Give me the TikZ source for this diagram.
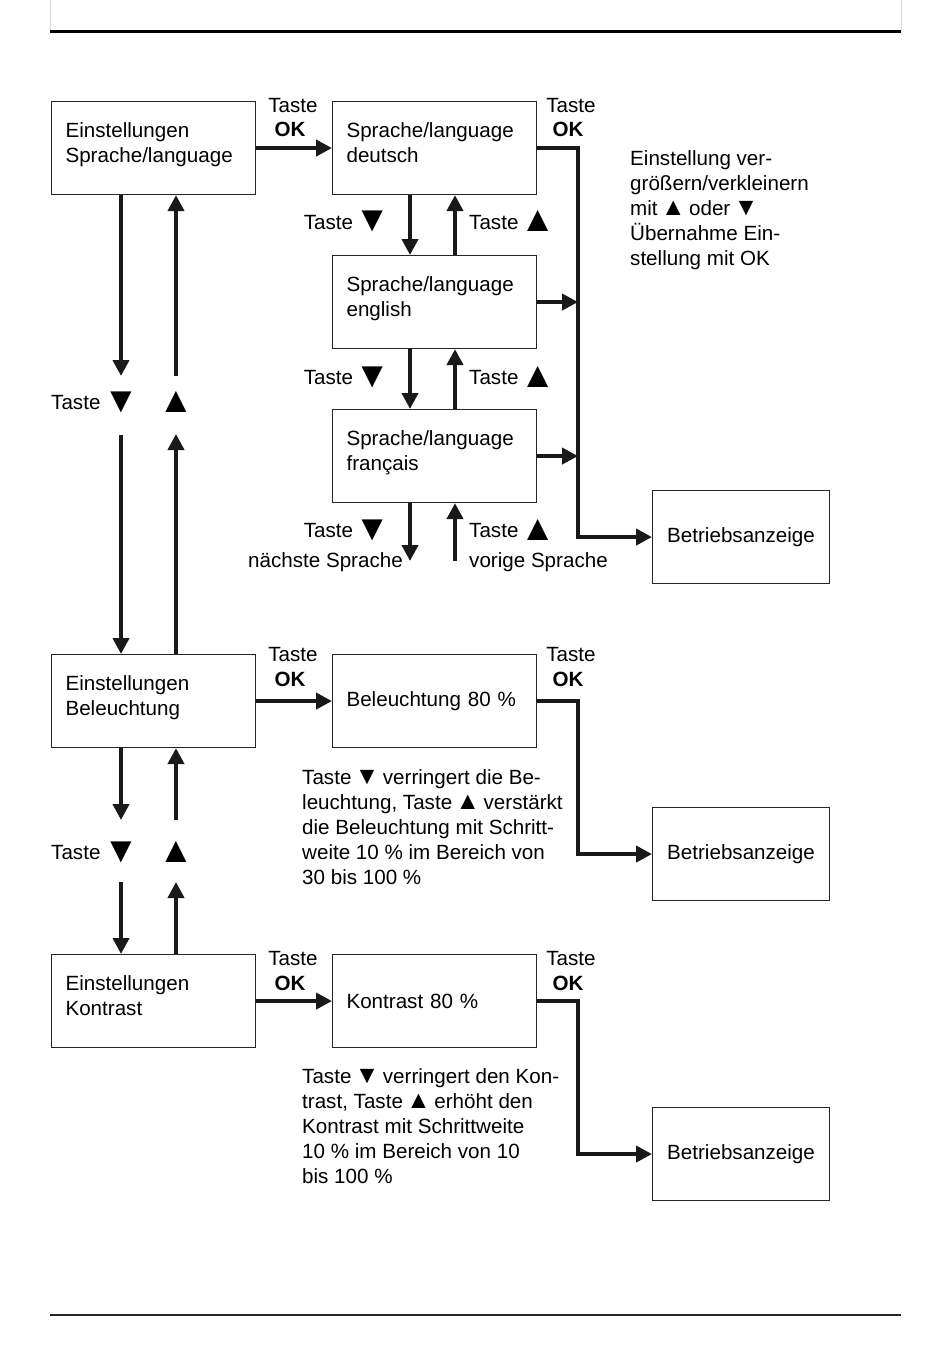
\documentclass[tikz,border=0pt]{standalone}
\usepackage{fontspec}
\usepackage{graphicx}
\setmainfont{Liberation Sans}
\usetikzlibrary{arrows.meta}
\newcommand\dfont{\fontsize{20.6}{25}\selectfont}
\newcommand\triL[1]{\makebox[27pt][c]{\smash{\raisebox{-3pt}{\scalebox{1.75}{#1}}}}}
\newcommand\triS[1]{\makebox[20pt][c]{\smash{\scalebox{1.2}{#1}}}}
\newcommand\dnT{\triL{▼}}
\newcommand\upT{\triL{▲}}
\newcommand\dnS{\triS{▼}}
\newcommand\upS{\triS{▲}}
\begin{document}
\begin{tikzpicture}[x=1pt,y=-1pt,
  box/.style={draw=black!85, line width=1.1pt, minimum width=204pt, minimum height=93pt,
    anchor=north west, inner xsep=14pt, inner ysep=0pt, text width=176pt, align=left, font=\dfont},
  box2/.style={box, text depth=37pt},
  zbox/.style={draw=black!85, line width=1.1pt, minimum width=177pt, minimum height=93pt,
    anchor=north west, inner sep=0pt, align=center, font=\dfont},
  lab/.style={inner sep=0pt, font=\dfont},
  txt/.style={inner sep=0pt, font=\dfont, align=left, anchor=north west},
  lin/.style={line width=4pt, line join=miter, black!90},
  arr/.style={lin, -{Triangle[length=16pt,width=16pt]}}
]
\path[use as bounding box] (0,0) rectangle (950,1367);
% page rules
\draw[black!15, line width=0.8pt] (50,0) -- (50,30) (901,0) -- (901,30);
\draw[line width=3.5pt] (50,31.5) -- (901,31.5);
\draw[line width=2pt, black!85] (50,1315) -- (901,1315);

% boxes
\node[box2] (A1) at (51,101) {Einstellungen\\Sprache/language};
\node[box2] (B1) at (332,101) {Sprache/language\\deutsch};
\node[box2] (B2) at (332,255) {Sprache/language\\english};
\node[box2] (B3) at (332,409) {Sprache/language\\français};
\node[zbox] (Z1) at (652,490) {Betriebsanzeige};
\node[box2] (A2) at (51,654) {Einstellungen\\Beleuchtung};
\node[box] (C2) at (332,654) {Beleuchtung 80 \%};
\node[zbox] (Z2) at (652,807) {Betriebsanzeige};
\node[box2] (A3) at (51,954) {Einstellungen\\Kontrast};
\node[box] (C3) at (332,954) {Kontrast 80 \%};
\node[zbox] (Z3) at (652,1107) {Betriebsanzeige};

% helper coordinates
\coordinate (xd) at (410,0);
\coordinate (xu) at (455,0);
\coordinate (vx) at (578,0);
\coordinate (e1) at (410,561);
\coordinate (e2) at (455,561);
\coordinate (ld1) at (121,376);
\coordinate (lu1) at (176,376);
\coordinate (ld2) at (121,435);
\coordinate (lu2) at (176,434);
\coordinate (ld3) at (121,820);
\coordinate (lu3) at (176,820);
\coordinate (ld4) at (121,882);
\coordinate (lu4) at (176,882);

% row 1
\draw[arr] (A1.east) -- (B1.west);
\draw[arr] (B1.east) -- (vx |- B1.east) -- (vx |- Z1.west) -- (Z1.west);
\draw[arr] (B2.east) -- (vx |- B2.east);
\draw[arr] (B3.east) -- (vx |- B3.east);
\draw[arr] (xd |- B1.south) -- (xd |- B2.north);
\draw[arr] (xu |- B2.north) -- (xu |- B1.south);
\draw[arr] (xd |- B2.south) -- (xd |- B3.north);
\draw[arr] (xu |- B3.north) -- (xu |- B2.south);
\draw[arr] (xd |- B3.south) -- (e1);
\draw[arr] (e2) -- (xu |- B3.south);

% left column
\draw[arr] (ld1 |- A1.south) -- (ld1);
\draw[arr] (lu1) -- (lu1 |- A1.south);
\draw[arr] (ld2) -- (ld2 |- A2.north);
\draw[arr] (lu2 |- A2.north) -- (lu2);
\draw[arr] (ld3 |- A2.south) -- (ld3);
\draw[arr] (lu3) -- (lu3 |- A2.south);
\draw[arr] (ld4) -- (ld4 |- A3.north);
\draw[arr] (lu4 |- A3.north) -- (lu4);

% rows 2 and 3
\draw[arr] (A2.east) -- (C2.west);
\draw[arr] (C2.east) -- (vx |- C2.east) -- (vx |- Z2.west) -- (Z2.west);
\draw[arr] (A3.east) -- (C3.west);
\draw[arr] (C3.east) -- (vx |- C3.east) -- (vx |- Z3.west) -- (Z3.west);

% Taste OK labels
\node[lab, anchor=base] (t1a) at (293,113) {Taste};
\node[lab, anchor=base] (t1b) at (290,137) {\textbf{OK}};
\node[lab, anchor=base] (t2a) at (571,113) {Taste};
\node[lab, anchor=base] (t2b) at (568,137) {\textbf{OK}};
\node[lab, anchor=base] (t3a) at (293,661) {Taste};
\node[lab, anchor=base] (t3b) at (290,686) {\textbf{OK}};
\node[lab, anchor=base] (t4a) at (571,661) {Taste};
\node[lab, anchor=base] (t4b) at (568,686) {\textbf{OK}};
\node[lab, anchor=base] (t5a) at (293,965) {Taste};
\node[lab, anchor=base] (t5b) at (290,990) {\textbf{OK}};
\node[lab, anchor=base] (t6a) at (571,965) {Taste};
\node[lab, anchor=base] (t6b) at (568,990) {\textbf{OK}};

% key labels between language boxes
\node[lab, anchor=base east] (k1) at (386,229) {Taste \dnT};
\node[lab, anchor=base west] (k2) at (469,229) {Taste \upT};
\node[lab, anchor=base east] (k3) at (386,384) {Taste \dnT};
\node[lab, anchor=base west] (k4) at (469,384) {Taste \upT};
\node[lab, anchor=base east] (k5) at (386,537) {Taste \dnT};
\node[lab, anchor=base west] (k6) at (469,537) {Taste \upT};
\node[lab, anchor=base east] (k7) at (403,567) {nächste Sprache};
\node[lab, anchor=base west] (k8) at (469,567) {vorige Sprache};

% left column labels
\node[lab, anchor=base west] (m1) at (51,409) {Taste};
\node[lab, anchor=base] (m2) at (121,409) {\dnT};
\node[lab, anchor=base] (m3) at (176,409) {\upT};
\node[lab, anchor=base west] (m4) at (51,859) {Taste};
\node[lab, anchor=base] (m5) at (121,859) {\dnT};
\node[lab, anchor=base] (m6) at (176,859) {\upT};

% explanatory texts
\node[txt] (n1) at (630,150) {Einstellung ver-\\größern/verkleinern\\mit \upS{} oder \dnS\\Übernahme Ein-\\stellung mit OK};
\node[txt] (n2) at (302,769) {Taste \dnS{} verringert die Be-\\leuchtung, Taste \upS{} verstärkt\\die Beleuchtung mit Schritt-\\weite 10 \% im Bereich von\\30 bis 100 \%};
\node[txt] (n3) at (302,1068) {Taste \dnS{} verringert den Kon-\\trast, Taste \upS{} erhöht den\\Kontrast mit Schrittweite\\10 \% im Bereich von 10\\bis 100 \%};
\end{tikzpicture}
\end{document}
